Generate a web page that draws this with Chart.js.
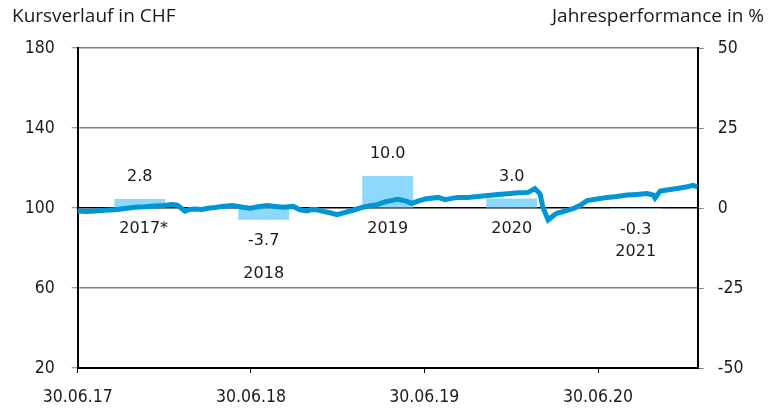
<!DOCTYPE html>
<html>
<head>
<meta charset="utf-8">
<script src="https://cdn.jsdelivr.net/npm/chart.js@4/dist/chart.umd.min.js"></script>
<style>
  html, body { margin: 0; padding: 0; background: #fff; }
  #c { display: block; }
</style>
</head>
<body>
<canvas id="c" width="770" height="408"></canvas>
<script>
// ---- data ----
const dateTicks = [0, 365, 730, 1096];               // days since 30.06.17
const dateTickLabels = ['30.06.17', '30.06.18', '30.06.19', '30.06.20'];
const axisEndDay = 1306;

const priceDays = [0, 18, 36, 58, 79, 100, 121, 142, 163, 182, 199, 210, 215, 226, 236, 247, 262, 274, 290, 304, 325, 348, 363, 380, 399, 416, 433, 454, 468, 483, 494, 504, 517, 532, 546, 560, 574, 588, 601, 616, 631, 647, 660, 674, 690, 704, 718, 732, 759, 774, 788, 801, 822, 843, 864, 885, 906, 928, 949, 963, 974, 980, 991, 1001, 1010, 1020, 1031, 1045, 1058, 1073, 1094, 1115, 1136, 1157, 1178, 1199, 1212, 1216, 1227, 1248, 1269, 1284, 1296, 1306];
const priceValues = [98.5, 98.2, 98.5, 98.9, 99.1, 99.8, 100.4, 100.6, 101.0, 101.3, 101.7, 101.4, 100.5, 98.4, 99.3, 99.5, 99.3, 99.9, 100.3, 100.8, 101.3, 100.4, 99.9, 100.6, 101.2, 100.8, 100.4, 100.8, 99.1, 98.5, 99.3, 99.1, 98.3, 97.6, 96.7, 97.6, 98.5, 99.5, 100.4, 101.1, 101.7, 103.0, 103.7, 104.3, 103.6, 102.3, 103.6, 104.5, 105.3, 104.2, 104.8, 105.3, 105.3, 105.7, 106.2, 106.7, 107.1, 107.6, 107.8, 109.7, 107.0, 100.3, 94.0, 96.0, 97.5, 98.0, 98.8, 99.8, 101.2, 103.7, 104.5, 105.3, 105.8, 106.5, 106.8, 107.2, 106.5, 105.0, 108.5, 109.2, 110.0, 110.6, 111.3, 110.5];

const years = ['2017*', '2018', '2019', '2020', '2021'];
const yearPerformance = [2.8, -3.7, 10.0, 3.0, -0.3];

const leftTicks = [20, 60, 100, 140, 180];
const rightTicks = [-50, -25, 0, 25, 50];

const leftTitle = 'Kursverlauf in CHF';
const rightTitle = 'Jahresperformance in %';

// ---- styling ----
const LINE_COLOR = '#0096d6';
const BAR_COLOR = '#8dd8fb';
const TEXT_COLOR = '#1a1a1a';
const TICK_FONT = { family: '"DejaVu Sans Condensed", "DejaVu Sans", sans-serif', size: 17.5 };

const labelsPlugin = {
  id: 'barLabels',
  afterDatasetsDraw(chart) {
    const ctx = chart.ctx;
    const meta = chart.getDatasetMeta(1);
    const zero = chart.scales.yr.getPixelForValue(0);
    const yearGap = [0, 33, 0, 0, 22];
    ctx.save();
    ctx.fillStyle = TEXT_COLOR;
    ctx.font = '16px "DejaVu Sans", sans-serif';
    ctx.textBaseline = 'middle';
    meta.data.forEach((el, i) => {
      const v = yearPerformance[i];
      const txt = v.toFixed(1);
      let vy, yy;
      if (v >= 0) {
        vy = el.y - 22;
        yy = zero + 21;
      } else {
        vy = el.y + 21;
        yy = vy + yearGap[i];
      }
      ctx.textAlign = 'center';
      ctx.fillText(txt, el.x, vy);
      const yl = years[i];
      const core = yl.replace('*', '');
      const w = ctx.measureText(core).width;
      ctx.textAlign = 'left';
      ctx.fillText(yl, el.x - w / 2, yy);
    });
    ctx.restore();
  },
  afterDraw(chart) {
    const ctx = chart.ctx;
    ctx.save();
    ctx.fillStyle = TEXT_COLOR;
    ctx.font = '19px "Open Sans", sans-serif';
    ctx.textBaseline = 'alphabetic';
    ctx.textAlign = 'left';
    ctx.fillText(leftTitle, 12, 22);
    ctx.fillText(rightTitle, 552, 22);
    ctx.restore();
  }
};

new Chart(document.getElementById('c'), {
  type: 'line',
  data: {
    datasets: [
      {
        type: 'line',
        data: priceDays.map((d, i) => ({ x: d, y: priceValues[i] })),
        xAxisID: 'x',
        yAxisID: 'yl',
        borderColor: LINE_COLOR,
        borderWidth: 5,
        pointRadius: 0,
        tension: 0,
        fill: false,
        order: 0
      },
      {
        type: 'bar',
        data: yearPerformance,
        xAxisID: 'xb',
        yAxisID: 'yr',
        backgroundColor: BAR_COLOR,
        borderWidth: 0,
        grouped: false,
        barPercentage: 0.41,
        categoryPercentage: 1,
        order: 1
      }
    ]
  },
  options: {
    responsive: false,
    animation: false,
    layout: { padding: { top: 48, left: 0, right: 0, bottom: 0 } },
    plugins: { legend: { display: false }, tooltip: { enabled: false }, title: { display: false } },
    scales: {
      x: {
        type: 'linear',
        position: 'bottom',
        min: 0,
        max: axisEndDay,
        afterBuildTicks: s => { s.ticks = dateTicks.map(v => ({ value: v })); },
        afterFit: s => { s.height = 40; },
        ticks: {
          callback: (v, i) => dateTickLabels[i],
          color: TEXT_COLOR,
          font: TICK_FONT,
          padding: 14,
          maxRotation: 0,
          autoSkip: false
        },
        grid: { drawOnChartArea: false, drawTicks: true, tickLength: 5, tickColor: '#000', tickWidth: 1 },
        border: { display: true, color: '#000', width: 2 }
      },
      xb: {
        type: 'category',
        labels: years,
        offset: true,
        display: false
      },
      yl: {
        type: 'linear',
        position: 'left',
        min: 20,
        max: 180,
        afterBuildTicks: s => { s.ticks = leftTicks.map(v => ({ value: v })); },
        afterFit: s => { s.width = 77.7; },
        ticks: { color: TEXT_COLOR, font: TICK_FONT, padding: 17 },
        grid: {
          color: c => (c.tick && c.tick.value === 100) ? '#000' : '#808080',
          lineWidth: 1.5,
          drawTicks: true,
          tickLength: 6,
          tickColor: '#808080',
          tickWidth: 1
        },
        border: { display: true, color: '#000', width: 2 }
      },
      yr: {
        type: 'linear',
        position: 'right',
        min: -50,
        max: 50,
        afterBuildTicks: s => { s.ticks = rightTicks.map(v => ({ value: v })); },
        afterFit: s => { s.width = 72.3; },
        ticks: { color: TEXT_COLOR, font: TICK_FONT, padding: 14 },
        grid: { drawOnChartArea: false, drawTicks: true, tickLength: 6, tickColor: '#808080', tickWidth: 1 },
        border: { display: true, color: '#000', width: 2 }
      }
    }
  },
  plugins: [labelsPlugin]
});
</script>
</body>
</html>
